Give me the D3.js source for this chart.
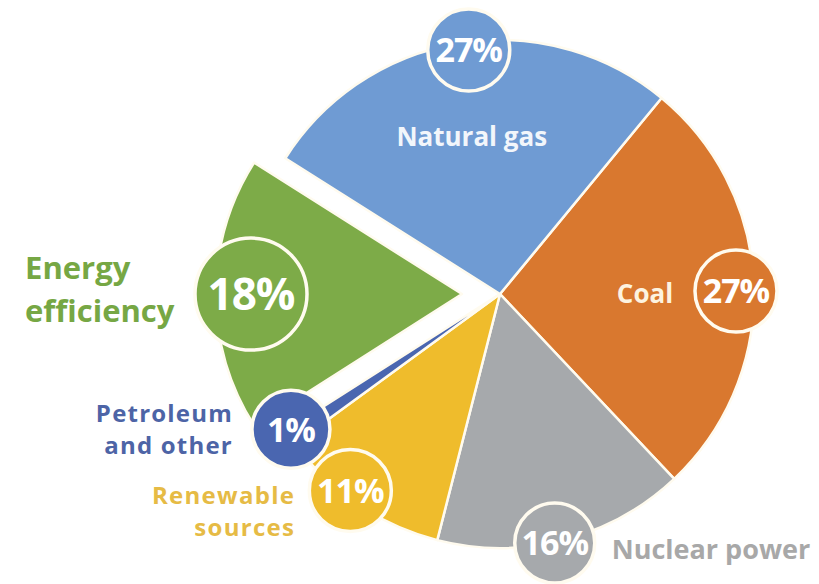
<!DOCTYPE html>
<html>
<head>
<meta charset="utf-8">
<script src="https://cdn.jsdelivr.net/npm/d3@7"></script>
<style>
  html, body { margin: 0; padding: 0; background: #ffffff; }
  svg { display: block; }
  text { font-family: "Open Sans", "Noto Sans", sans-serif; font-weight: 700; }
</style>
</head>
<body>
<svg id="chart" width="819" height="584"></svg>
<script>
// ---- data ----
const categories = ["Coal", "Nuclear power", "Renewable sources", "Petroleum and other", "Energy efficiency", "Natural gas"];
const values = [27, 16, 11, 1, 18, 27];
const percentLabels = ["27%", "16%", "11%", "1%", "18%", "27%"];
const nameLines = [["Coal"], ["Nuclear power"], ["Renewable", "sources"], ["Petroleum", "and other"], ["Energy", "efficiency"], ["Natural gas"]];
const explodedCategory = "Energy efficiency";

// ---- styling / layout ----
const sliceColors = ["#d9782f", "#a6a9ac", "#efbc2c", "#4a66b0", "#7dab48", "#6f9bd3"];
const textColors  = ["#fdf3e0", "#a8a8a8", "#e6bb45", "#4d64a6", "#76a744", "#f2f6fb"];
const W = 819, H = 584;
const cx = 500, cy = 294, R = 254;
const explode = 38;
const startDeg = 39.5;

// bubble placement: angle nudge (deg) from slice mid-angle, distance from slice origin, radius
const bubbleLayout = {
  "Coal":                { da: 1.2, dist: 236, r: 41, size: 34 },
  "Nuclear power":       { da: 2.1, dist: 255, r: 40, size: 34 },
  "Renewable sources":   { da: 3.2, dist: 247, r: 41, size: 34 },
  "Petroleum and other": { da: 1.4, dist: 249, r: 39, size: 34 },
  "Energy efficiency":   { da: 0.1, dist: 211, r: 56, size: 44 },
  "Natural gas":         { da: 1.8, dist: 246, r: 41, size: 34 }
};
// category names: offsets relative to bubble centre
const nameLayout = {
  "Coal":               { dx: -91, dy: 3,  anchor: "middle", size: 26, lh: 30, ls: 0 },
  "Nuclear power":      { dx: 57,  dy: 6,  anchor: "start",  size: 27, lh: 30, ls: 0 },
  "Renewable sources":  { dx: -55, dy: 21, anchor: "end",    size: 24, lh: 32, ls: 1.3 },
  "Petroleum and other":{ dx: -58, dy: 0,  anchor: "end",    size: 24, lh: 32, ls: 1.2 },
  "Energy efficiency":  { dx: -226,dy: -5, anchor: "start",  size: 31, lh: 43, ls: 0 },
  "Natural gas":        { dx: 3,   dy: 87, anchor: "middle", size: 26, lh: 30, ls: 0 }
};

const svg = d3.select("#chart");
const pie = d3.pie().sort(null).value(d => d.value)
  .startAngle(startDeg * Math.PI / 180)
  .endAngle((startDeg + 360) * Math.PI / 180);

const data = categories.map((c, i) => ({ name: c, value: values[i], pct: percentLabels[i], lines: nameLines[i], color: sliceColors[i], tcolor: textColors[i] }));
const arcs = pie(data);

const arc = d3.arc().innerRadius(0).outerRadius(R);
const arcExploded = d3.arc().innerRadius(0).outerRadius(R - 8);
const g = svg.append("g").attr("transform", `translate(${cx},${cy})`);

function offsetOf(d) {
  if (d.data.name !== explodedCategory) return [0, 0];
  const a = (d.startAngle + d.endAngle) / 2;
  return [explode * Math.sin(a), -explode * Math.cos(a)];
}

// slices
g.selectAll("path.slice").data(arcs).join("path")
  .attr("class", "slice")
  .attr("d", d => d.data.name === explodedCategory ? arcExploded(d) : arc(d))
  .attr("transform", d => { const o = offsetOf(d); return `translate(${o[0]},${o[1]})`; })
  .attr("fill", d => d.data.color)
  .attr("stroke", "#fffbef")
  .attr("stroke-width", 2.5)
  .attr("stroke-linejoin", "round");

function bubblePos(d) {
  const L = bubbleLayout[d.data.name];
  const a = (d.startAngle + d.endAngle) / 2 + L.da * Math.PI / 180;
  const o = offsetOf(d);
  return [L.dist * Math.sin(a) + o[0], -L.dist * Math.cos(a) + o[1]];
}

// percent bubbles
const bubbles = g.selectAll("g.bubble").data(arcs).join("g")
  .attr("class", "bubble")
  .attr("transform", d => { const p = bubblePos(d); return `translate(${p[0]},${p[1]})`; });
bubbles.append("circle")
  .attr("r", d => bubbleLayout[d.data.name].r)
  .attr("fill", d => d.data.color)
  .attr("stroke", "#fffbef")
  .attr("stroke-width", 3.5);
bubbles.append("text")
  .attr("text-anchor", "middle")
  .attr("dy", "0.36em")
  .attr("fill", "#ffffff")
  .style("font-size", d => bubbleLayout[d.data.name].size + "px")
  .style("letter-spacing", "-1px")
  .text(d => d.data.pct);

// category names
arcs.forEach(d => {
  const L = nameLayout[d.data.name];
  const p = bubblePos(d);
  const n = d.data.lines.length;
  const t = g.append("text")
    .attr("text-anchor", L.anchor)
    .attr("fill", d.data.tcolor)
    .style("font-size", L.size + "px")
    .style("letter-spacing", L.ls + "px");
  d.data.lines.forEach((ln, i) => {
    t.append("tspan")
      .attr("x", p[0] + L.dx)
      .attr("y", p[1] + L.dy + (i - (n - 1) / 2) * L.lh)
      .attr("dy", "0.36em")
      .text(ln);
  });
});
</script>
</body>
</html>
